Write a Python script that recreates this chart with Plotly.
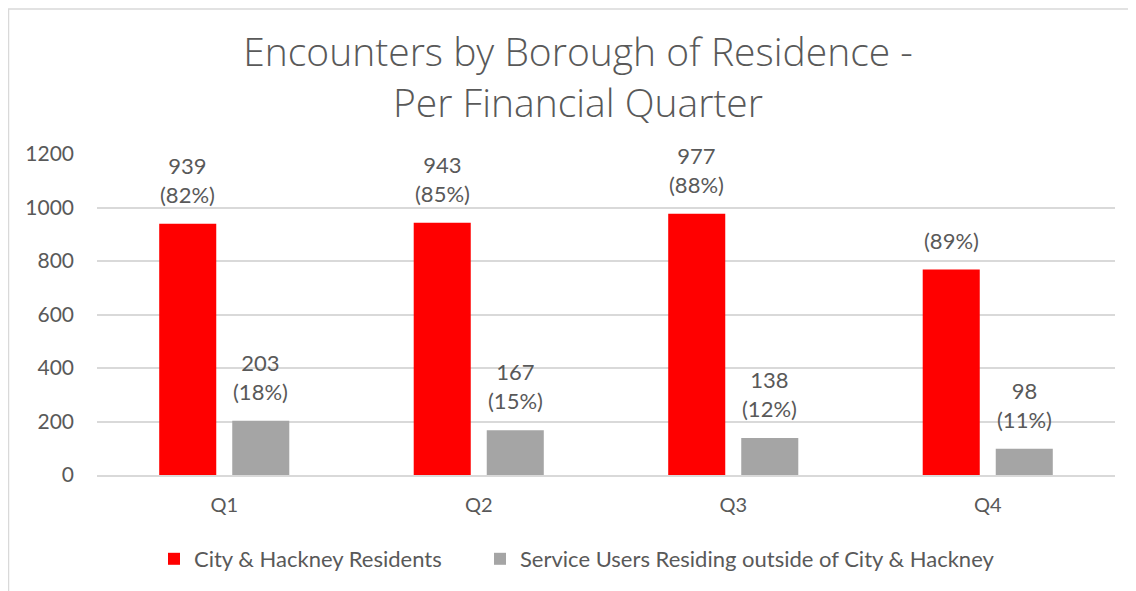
import plotly.graph_objects as go

quarters = ["Q1", "Q2", "Q3", "Q4"]
residents = [939, 943, 977, 768]
residents_pct = ["82%", "85%", "88%", "89%"]
residents_show_value = [True, True, True, False]
outside = [203, 167, 138, 98]
outside_pct = ["18%", "15%", "12%", "11%"]
outside_show_value = [True, True, True, True]
yticks = [0, 200, 400, 600, 800, 1000, 1200]

RED = "#ff0000"
GREY = "#a5a5a5"
TXT = "#595959"
FONT = "Lato"

fig = go.Figure()
fig.add_trace(go.Bar(x=quarters, y=residents, name="City & Hackney Residents",
                     marker=dict(color=RED, line=dict(width=0)), legend="legend", showlegend=True))
fig.add_trace(go.Bar(x=quarters, y=outside, name="Service Users Residing outside of City & Hackney",
                     marker=dict(color=GREY, line=dict(width=0)), legend="legend2", showlegend=True))

def lab(v, p, show):
    return (f"{v}<br>({p})" if show else f"({p})")

annotations = []
for q, v, p, s in zip(quarters, residents, residents_pct, residents_show_value):
    annotations.append(dict(x=q, y=v, xref="x", yref="y", text=lab(v, p, s), showarrow=False,
                            xshift=-36.5, yanchor="bottom", yshift=14,
                            font=dict(family=FONT, size=22, color=TXT)))
for q, v, p, s in zip(quarters, outside, outside_pct, outside_show_value):
    annotations.append(dict(x=q, y=v, xref="x", yref="y", text=lab(v, p, s), showarrow=False,
                            xshift=36.5, yanchor="bottom", yshift=14,
                            font=dict(family=FONT, size=22, color=TXT)))

# page is offset by 8px body margin; figure coordinates below
W, H = 1128, 583
L, T = 89, 146
pw, ph = 1018, 322
R, B = W - L - pw, H - T - ph
bottom = T + ph

legend_common = dict(orientation="h", xanchor="left", y=(bottom - 551) / ph, yanchor="middle",
                     font=dict(family=FONT, size=22, color=TXT), itemwidth=30,
                     bgcolor="rgba(0,0,0,0)", visible=True)

fig.update_layout(
    width=W, height=H,
    margin=dict(l=L, r=R, t=T, b=B),
    paper_bgcolor="white", plot_bgcolor="white",
    showlegend=True,
    barmode="group", bargap=0.426, bargroupgap=0.219,
    title=dict(text="Encounters by Borough of Residence -<br>Per Financial Quarter",
               x=570 / W, xanchor="center", xref="container",
               y=1 - 58 / H, yanchor="middle", yref="container",
               font=dict(family="Open Sans", size=39, color=TXT, weight=300)),
    legend=dict(x=(146 - L) / pw, **legend_common),
    legend2=dict(x=(472 - L) / pw, **legend_common),
    annotations=annotations,
    shapes=[dict(type="rect", xref="paper", yref="paper",
                 x0=(0.5 - L) / pw, x1=(W + 5 - L) / pw,
                 y0=(bottom - 590) / ph, y1=(bottom - 0.5) / ph,
                 line=dict(color="#d9d9d9", width=1.5), fillcolor="rgba(0,0,0,0)", layer="below")],
    font=dict(family=FONT, color=TXT),
)
fig.update_xaxes(showgrid=False, showline=True, linecolor="#d9d9d9", linewidth=1.5,
                 tickfont=dict(family=FONT, size=20, color=TXT), ticks="", ticklabelstandoff=11)
fig.update_yaxes(range=[0, 1200], tickvals=yticks, showgrid=True, gridcolor="#d9d9d9", gridwidth=1.5,
                 zeroline=False, showline=False,
                 tickfont=dict(family=FONT, size=21, color=TXT), ticks="", ticklabelstandoff=22)

fig.write_html("out.html")
